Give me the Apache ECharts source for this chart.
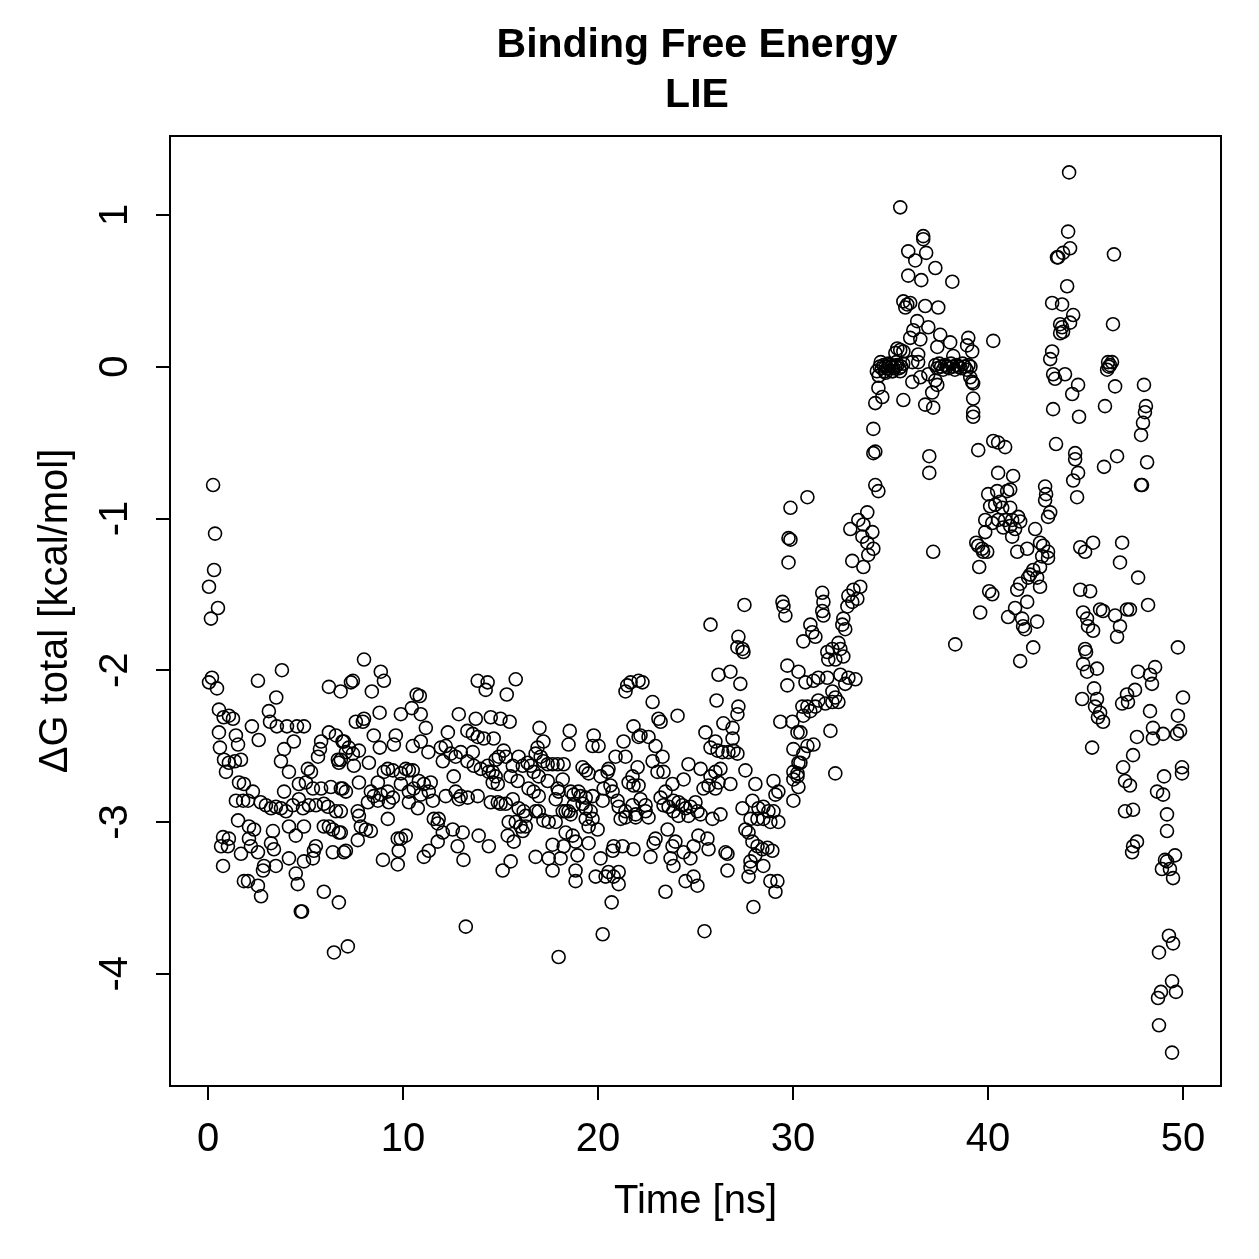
<!DOCTYPE html>
<html>
<head>
<meta charset="utf-8">
<script src="https://cdn.jsdelivr.net/npm/echarts@6/dist/echarts.min.js"></script>
<style>
  html, body { margin: 0; padding: 0; background: #fff; }
  #chart { width: 1259px; height: 1259px; }
</style>
</head>
<body>
<div id="chart"></div>
<script>
// tick labels
var xTicks = [0, 10, 20, 30, 40, 50];
var yTicks = [-4, -3, -2, -1, 0, 1];

// [time (ns), dG total (kcal/mol)]
var seg0to7 = [[0.26,-0.78],[0.36,-1.1],[0.31,-1.34],[0.05,-1.45],[0.51,-1.59],[0.15,-1.66],[0.2,-2.05],[0.05,-2.08],[0.46,-2.12],[2.56,-2.07],[3.79,-2.0],[6.2,-2.11],[6.8,-2.14],[3.5,-2.18],[0.56,-2.26],[0.8,-2.31],[1.07,-2.3],[1.28,-2.32],[3.12,-2.27],[2.25,-2.37],[3.18,-2.34],[3.53,-2.37],[4.05,-2.37],[4.56,-2.37],[4.92,-2.37],[0.56,-2.41],[1.43,-2.43],[1.54,-2.49],[2.6,-2.46],[4.4,-2.47],[0.61,-2.51],[3.9,-2.52],[5.8,-2.47],[5.74,-2.52],[5.64,-2.57],[6.2,-2.41],[6.56,-2.43],[6.9,-2.47],[0.82,-2.59],[1.07,-2.61],[1.38,-2.6],[1.69,-2.59],[0.92,-2.67],[3.74,-2.6],[4.15,-2.67],[6.66,-2.59],[6.71,-2.61],[5.12,-2.65],[5.28,-2.67],[1.59,-2.74],[1.84,-2.75],[2.3,-2.8],[3.9,-2.8],[4.66,-2.75],[5.02,-2.74],[5.38,-2.78],[5.8,-2.78],[6.3,-2.77],[6.9,-2.78],[1.43,-2.86],[1.8,-2.86],[2.05,-2.86],[2.7,-2.87],[2.97,-2.89],[3.23,-2.91],[3.48,-2.9],[3.74,-2.91],[4.0,-2.93],[4.35,-2.89],[4.66,-2.85],[4.87,-2.91],[5.17,-2.89],[5.53,-2.89],[5.94,-2.88],[6.15,-2.9],[6.56,-2.93],[1.54,-2.99],[2.1,-3.03],[2.36,-3.05],[3.33,-3.06],[4.15,-3.03],[4.5,-3.09],[4.92,-3.03],[5.94,-3.03],[6.2,-3.03],[6.4,-3.05],[6.71,-3.07],[0.77,-3.1],[1.07,-3.11],[0.67,-3.16],[1.02,-3.16],[2.1,-3.11],[1.69,-3.21],[2.2,-3.16],[2.56,-3.2],[3.23,-3.14],[3.38,-3.18],[5.53,-3.16],[5.43,-3.19],[5.38,-3.24],[6.4,-3.2],[6.97,-3.2],[0.77,-3.29],[4.15,-3.24],[4.92,-3.26],[2.87,-3.29],[2.82,-3.32],[3.48,-3.29],[4.5,-3.34],[4.6,-3.41],[1.84,-3.39],[2.05,-3.39],[2.56,-3.42],[2.72,-3.49],[5.94,-3.46],[6.71,-3.53],[4.76,-3.59],[4.82,-3.59],[6.46,-3.86]];

var seg7to14 = [[8.0,-1.93],[8.86,-2.01],[9.02,-2.07],[7.43,-2.07],[7.33,-2.08],[8.4,-2.14],[13.83,-2.07],[14.34,-2.08],[14.24,-2.13],[10.7,-2.16],[10.86,-2.17],[10.45,-2.25],[10.91,-2.29],[8.8,-2.28],[9.89,-2.29],[7.58,-2.34],[8.0,-2.32],[7.94,-2.34],[12.86,-2.29],[13.73,-2.32],[14.5,-2.31],[11.17,-2.38],[8.5,-2.43],[9.63,-2.43],[9.53,-2.49],[8.81,-2.51],[12.3,-2.41],[10.91,-2.47],[10.5,-2.5],[13.3,-2.4],[13.58,-2.42],[13.83,-2.44],[14.14,-2.45],[6.97,-2.47],[7.22,-2.51],[7.07,-2.54],[7.43,-2.55],[7.74,-2.53],[6.81,-2.59],[7.48,-2.63],[8.25,-2.61],[11.3,-2.54],[11.94,-2.51],[12.19,-2.5],[12.45,-2.55],[12.7,-2.57],[12.96,-2.54],[13.58,-2.54],[12.04,-2.6],[13.3,-2.6],[13.63,-2.63],[13.99,-2.65],[14.34,-2.63],[14.6,-2.67],[9.22,-2.65],[9.48,-2.66],[10.14,-2.65],[10.3,-2.66],[10.5,-2.66],[9.02,-2.67],[9.89,-2.68],[10.81,-2.73],[11.07,-2.75],[11.42,-2.74],[12.6,-2.7],[7.74,-2.74],[8.71,-2.74],[9.89,-2.75],[6.81,-2.78],[7.07,-2.8],[8.35,-2.8],[8.5,-2.83],[8.86,-2.82],[9.22,-2.8],[9.48,-2.84],[10.3,-2.8],[10.55,-2.78],[10.91,-2.82],[11.32,-2.8],[11.53,-2.86],[12.19,-2.83],[12.7,-2.8],[12.96,-2.83],[13.32,-2.84],[13.83,-2.83],[8.2,-2.87],[8.71,-2.86],[9.27,-2.87],[10.3,-2.87],[10.76,-2.91],[12.86,-2.85],[14.5,-2.87],[6.81,-2.93],[7.68,-2.93],[7.74,-2.96],[9.22,-2.98],[11.58,-2.98],[11.83,-2.98],[11.78,-3.01],[7.84,-3.03],[8.1,-3.05],[8.35,-3.06],[6.81,-3.07],[10.14,-3.09],[9.89,-3.11],[9.73,-3.11],[12.55,-3.05],[13.06,-3.07],[13.88,-3.09],[7.68,-3.12],[12.04,-3.07],[11.78,-3.13],[7.07,-3.19],[9.78,-3.19],[11.32,-3.19],[11.07,-3.23],[12.8,-3.16],[14.4,-3.16],[8.97,-3.25],[9.73,-3.28],[13.1,-3.25],[13.22,-3.69],[7.17,-3.82]];

var seg14to22 = [[15.78,-2.06],[15.32,-2.16],[21.5,-2.1],[21.67,-2.08],[22.08,-2.07],[21.41,-2.14],[15.0,-2.32],[15.47,-2.34],[17.0,-2.38],[18.55,-2.4],[18.49,-2.49],[19.78,-2.43],[19.72,-2.5],[20.03,-2.5],[21.82,-2.37],[22.08,-2.44],[21.31,-2.47],[14.65,-2.45],[17.2,-2.47],[16.9,-2.51],[16.8,-2.55],[17.06,-2.57],[15.16,-2.53],[14.91,-2.57],[14.75,-2.59],[15.27,-2.57],[15.93,-2.57],[20.9,-2.57],[21.41,-2.57],[14.4,-2.67],[14.75,-2.7],[14.6,-2.74],[14.86,-2.75],[15.63,-2.63],[16.14,-2.63],[16.39,-2.61],[16.55,-2.63],[16.7,-2.67],[17.2,-2.6],[17.42,-2.62],[17.67,-2.62],[17.93,-2.62],[18.24,-2.62],[15.52,-2.7],[15.88,-2.73],[16.96,-2.7],[17.42,-2.73],[18.19,-2.72],[19.21,-2.64],[19.37,-2.66],[19.52,-2.68],[20.13,-2.7],[20.54,-2.65],[20.49,-2.67],[21.77,-2.7],[22.03,-2.64],[21.57,-2.74],[21.82,-2.76],[22.08,-2.76],[16.44,-2.78],[16.7,-2.8],[16.96,-2.83],[17.93,-2.78],[17.98,-2.8],[18.6,-2.8],[18.75,-2.82],[19.0,-2.8],[19.1,-2.83],[19.37,-2.84],[19.72,-2.83],[20.29,-2.78],[20.64,-2.76],[20.75,-2.8],[14.86,-2.87],[15.0,-2.88],[15.27,-2.88],[15.63,-2.85],[17.83,-2.85],[15.93,-2.91],[16.19,-2.93],[16.29,-2.96],[16.8,-2.93],[16.96,-2.93],[18.34,-2.93],[18.49,-2.93],[18.75,-2.89],[19.21,-2.88],[19.37,-2.91],[19.62,-2.93],[20.24,-2.86],[21.0,-2.86],[21.06,-2.9],[21.41,-2.93],[21.77,-2.89],[21.93,-2.95],[15.42,-3.0],[15.78,-3.0],[16.03,-3.03],[16.29,-3.03],[16.14,-3.06],[17.2,-2.99],[17.47,-3.0],[17.83,-3.0],[18.19,-2.93],[18.6,-2.95],[19.37,-2.98],[19.72,-2.98],[19.98,-3.05],[19.52,-3.03],[21.16,-2.98],[21.41,-2.97],[21.93,-2.97],[15.37,-3.09],[15.68,-3.13],[18.34,-3.07],[18.7,-3.09],[18.85,-3.13],[19.52,-3.14],[17.67,-3.15],[18.24,-3.16],[20.8,-3.16],[21.26,-3.16],[21.82,-3.18],[16.8,-3.23],[17.47,-3.24],[18.08,-3.24],[18.95,-3.22],[20.13,-3.24],[20.75,-3.19],[15.52,-3.26],[15.11,-3.32],[17.67,-3.32],[18.85,-3.32],[19.88,-3.36],[20.39,-3.36],[20.54,-3.33],[20.8,-3.36],[21.06,-3.33],[21.06,-3.41],[18.85,-3.39],[20.7,-3.53],[20.24,-3.74],[17.98,-3.89]];

var seg22to30 = [[27.51,-1.57],[29.46,-1.55],[29.51,-1.58],[29.61,-1.64],[25.77,-1.7],[27.2,-1.78],[27.15,-1.85],[27.41,-1.86],[27.46,-1.88],[29.71,-1.97],[30.28,-2.01],[29.71,-2.1],[26.18,-2.03],[26.79,-2.01],[27.3,-2.09],[22.28,-2.08],[26.08,-2.2],[22.8,-2.21],[27.2,-2.24],[27.15,-2.29],[24.08,-2.3],[23.1,-2.32],[23.21,-2.34],[29.35,-2.34],[29.97,-2.34],[30.23,-2.41],[26.43,-2.35],[26.9,-2.38],[26.9,-2.45],[26.95,-2.53],[27.15,-2.55],[22.18,-2.43],[22.59,-2.44],[22.95,-2.5],[25.51,-2.41],[26.02,-2.47],[25.77,-2.51],[26.13,-2.53],[26.38,-2.54],[26.69,-2.54],[30.02,-2.52],[30.28,-2.61],[30.23,-2.68],[30.02,-2.72],[23.31,-2.57],[22.8,-2.6],[23.05,-2.67],[23.36,-2.67],[24.64,-2.62],[25.26,-2.65],[24.39,-2.72],[23.82,-2.75],[25.77,-2.7],[26.02,-2.67],[26.28,-2.65],[25.67,-2.76],[26.18,-2.74],[26.79,-2.75],[26.02,-2.78],[25.41,-2.78],[27.56,-2.66],[28.07,-2.75],[29.0,-2.73],[29.25,-2.8],[29.1,-2.82],[22.18,-2.85],[22.44,-2.89],[22.44,-2.93],[22.59,-2.97],[23.46,-2.8],[23.21,-2.84],[23.87,-2.86],[24.13,-2.87],[24.33,-2.89],[24.49,-2.91],[24.74,-2.9],[25.0,-2.87],[25.1,-2.93],[25.26,-2.95],[24.64,-2.96],[24.13,-2.96],[23.87,-2.93],[23.62,-2.9],[23.36,-2.89],[25.87,-2.98],[26.28,-2.95],[27.41,-2.91],[27.92,-2.86],[28.23,-2.91],[28.48,-2.9],[28.74,-2.93],[29.0,-2.93],[29.25,-3.0],[28.84,-3.0],[28.48,-2.98],[28.18,-2.98],[27.82,-2.98],[23.57,-3.05],[23.97,-3.13],[23.82,-3.16],[22.95,-3.11],[22.85,-3.14],[22.69,-3.23],[25.15,-3.09],[25.61,-3.11],[25.67,-3.18],[24.9,-3.16],[24.39,-3.2],[24.74,-3.24],[26.54,-3.2],[26.64,-3.21],[26.64,-3.32],[27.56,-3.05],[27.72,-3.07],[27.92,-3.13],[28.18,-3.16],[28.43,-3.18],[28.69,-3.17],[28.94,-3.19],[28.07,-3.22],[27.82,-3.26],[27.82,-3.3],[27.72,-3.36],[28.48,-3.29],[28.84,-3.39],[29.2,-3.39],[29.1,-3.46],[23.72,-3.24],[23.87,-3.29],[23.46,-3.46],[24.49,-3.39],[25.1,-3.42],[24.9,-3.36],[27.97,-3.56],[25.46,-3.72]];

var seg30to34 = [[34.22,-0.78],[34.38,-0.82],[29.87,-0.93],[30.74,-0.86],[29.77,-1.13],[29.87,-1.14],[29.77,-1.29],[32.94,-1.07],[33.35,-1.01],[33.81,-0.96],[33.61,-1.04],[34.07,-1.09],[33.56,-1.12],[33.81,-1.16],[34.12,-1.2],[33.86,-1.24],[33.61,-1.32],[33.04,-1.28],[31.5,-1.49],[31.56,-1.55],[31.5,-1.61],[31.56,-1.64],[32.84,-1.51],[33.1,-1.47],[33.45,-1.45],[33.3,-1.53],[33.04,-1.55],[32.79,-1.58],[32.58,-1.66],[32.53,-1.7],[32.68,-1.73],[32.33,-1.82],[32.43,-1.86],[32.02,-1.86],[31.76,-1.88],[31.81,-1.93],[32.17,-1.93],[32.58,-1.91],[30.89,-1.7],[30.99,-1.75],[31.15,-1.78],[30.53,-1.81],[30.64,-2.08],[31.05,-2.07],[31.3,-2.05],[31.76,-2.05],[32.43,-2.03],[32.84,-2.05],[33.2,-2.06],[32.68,-2.09],[32.02,-2.14],[32.17,-2.18],[32.33,-2.21],[32.02,-2.21],[31.66,-2.22],[31.3,-2.2],[31.15,-2.24],[30.74,-2.24],[30.48,-2.24],[30.89,-2.27],[30.53,-2.3],[30.38,-2.41],[31.92,-2.4],[30.74,-2.5],[31.05,-2.49],[30.53,-2.55],[30.38,-2.61],[30.02,-2.67],[30.23,-2.7],[30.28,-2.77],[30.02,-2.86],[32.17,-2.68]];

var seg34to40 = [[35.5,1.05],[36.68,0.86],[36.68,0.84],[35.91,0.76],[36.27,0.7],[36.83,0.75],[37.3,0.65],[35.91,0.6],[36.58,0.57],[38.17,0.56],[35.66,0.43],[35.86,0.41],[36.01,0.42],[35.76,0.39],[36.78,0.4],[37.45,0.39],[36.37,0.3],[36.17,0.24],[36.94,0.26],[37.55,0.21],[36.53,0.18],[36.01,0.19],[38.06,0.16],[38.99,0.19],[38.93,0.14],[39.19,0.1],[40.27,0.17],[35.35,0.12],[35.5,0.11],[35.66,0.1],[35.25,0.09],[36.42,0.08],[37.4,0.13],[38.22,0.07],[36.12,0.03],[36.42,0.03],[34.3,-0.03],[34.4,-0.06],[34.75,-0.04],[35.1,-0.03],[36.12,-0.1],[36.53,-0.07],[36.94,-0.05],[37.3,-0.09],[37.4,-0.12],[39.09,-0.07],[39.19,-0.1],[39.24,-0.11],[34.38,-0.14],[34.58,-0.2],[34.22,-0.24],[35.66,-0.22],[37.14,-0.17],[36.78,-0.25],[37.19,-0.27],[39.24,-0.21],[39.24,-0.3],[39.24,-0.33],[34.12,-0.41],[34.22,-0.56],[34.12,-0.57],[36.99,-0.59],[36.99,-0.7],[37.19,-1.22]];

var plateauA = [[34.45,0.0],[34.5,0.03],[34.55,-0.01],[34.65,0.01],[34.7,-0.03],[34.75,0.0],[34.85,-0.01],[34.9,0.02],[34.95,0.01],[35.05,0.0],[35.1,-0.03],[35.15,-0.01],[35.25,0.0],[35.3,0.03],[35.35,0.01],[35.45,-0.01],[35.5,-0.03],[35.55,0.0],[35.65,0.02]];

var plateauB = [[37.3,0.01],[37.4,-0.01],[37.5,0.02],[37.6,0.0],[37.7,-0.02],[37.8,0.01],[37.9,0.0],[38.0,-0.01],[38.1,0.02],[38.2,0.0],[38.3,-0.02],[38.4,0.01],[38.5,0.0],[38.6,-0.01],[38.7,0.02],[38.8,0.0],[38.9,-0.02],[39.0,0.01],[39.1,0.0]];

var seg39to45 = [[39.5,-0.55],[40.27,-0.49],[40.52,-0.5],[40.88,-0.53],[43.49,-0.51],[44.47,-0.57],[44.47,-0.61],[44.62,-0.7],[44.37,-0.75],[44.57,-0.86],[40.52,-0.7],[41.29,-0.72],[40.01,-0.84],[40.47,-0.82],[40.98,-0.82],[41.14,-0.81],[42.93,-0.79],[42.98,-0.84],[42.93,-0.88],[43.19,-0.96],[43.08,-0.99],[40.11,-0.92],[40.37,-0.91],[40.62,-0.89],[40.73,-0.93],[41.14,-0.93],[39.86,-1.01],[40.22,-1.03],[40.52,-1.01],[40.88,-1.01],[41.24,-1.01],[41.55,-0.99],[40.78,-1.06],[41.14,-1.05],[41.39,-1.07],[41.24,-1.12],[41.65,-1.02],[39.86,-1.09],[39.4,-1.16],[39.5,-1.18],[39.7,-1.2],[39.96,-1.22],[39.75,-1.22],[39.55,-1.32],[42.42,-1.07],[42.67,-1.16],[42.83,-1.18],[43.08,-1.22],[42.78,-1.25],[43.08,-1.26],[42.01,-1.2],[41.5,-1.22],[42.67,-1.32],[42.32,-1.34],[42.16,-1.37],[42.06,-1.39],[42.52,-1.39],[42.67,-1.45],[41.65,-1.43],[41.5,-1.47],[42.01,-1.55],[41.39,-1.59],[40.06,-1.48],[40.22,-1.5],[39.6,-1.62],[41.03,-1.65],[41.75,-1.66],[41.8,-1.71],[41.9,-1.73],[42.52,-1.68],[42.32,-1.85],[41.65,-1.94],[38.32,-1.83],[44.73,-1.19],[44.98,-1.22],[44.73,-1.47],[44.88,-1.62],[45.08,-1.66],[44.98,-1.86]];

var seg43to50 = [[44.16,1.28],[44.11,0.89],[44.21,0.78],[43.85,0.75],[43.54,0.72],[43.6,0.72],[46.46,0.74],[44.06,0.53],[43.29,0.42],[43.8,0.41],[44.37,0.34],[44.21,0.29],[43.7,0.28],[43.8,0.26],[43.85,0.23],[43.7,0.22],[46.41,0.28],[43.29,0.1],[43.19,0.05],[46.16,0.03],[46.26,0.01],[46.36,0.03],[46.2,0.0],[46.11,-0.02],[43.34,-0.05],[43.44,-0.08],[43.95,-0.05],[44.62,-0.12],[44.32,-0.18],[46.52,-0.13],[46.0,-0.26],[48.0,-0.12],[43.34,-0.28],[44.67,-0.33],[48.1,-0.26],[48.05,-0.3],[47.95,-0.37],[47.85,-0.45],[45.95,-0.66],[46.62,-0.59],[48.16,-0.63],[47.85,-0.78],[47.9,-0.78],[45.39,-1.16],[46.88,-1.16],[46.77,-1.29],[47.7,-1.39],[45.24,-1.48],[45.13,-1.71],[45.39,-1.74],[45.75,-1.6],[45.9,-1.61],[46.52,-1.64],[46.77,-1.71],[46.62,-1.78],[47.13,-1.6],[47.28,-1.6],[48.21,-1.57],[45.03,-1.88],[44.88,-1.96],[45.08,-2.01],[45.59,-1.99],[49.74,-1.85],[47.7,-2.01],[48.31,-2.03],[48.57,-1.98],[48.41,-2.09],[47.54,-2.13],[47.13,-2.16],[46.88,-2.22],[47.18,-2.21],[45.44,-2.12],[45.59,-2.19],[45.49,-2.24],[45.75,-2.28],[45.64,-2.31],[45.9,-2.34],[44.83,-2.19],[50.0,-2.18],[49.74,-2.3],[48.31,-2.27],[48.46,-2.38],[48.46,-2.45],[48.98,-2.42],[49.69,-2.42],[49.85,-2.4],[47.64,-2.44],[45.34,-2.51],[47.44,-2.56],[46.93,-2.64],[47.03,-2.73],[47.28,-2.76],[49.95,-2.64],[49.95,-2.68],[49.03,-2.7],[48.67,-2.8],[48.98,-2.82],[47.03,-2.93],[47.44,-2.92],[49.18,-2.95],[49.18,-3.06],[47.64,-3.13],[47.44,-3.16],[47.39,-3.2],[49.59,-3.22],[49.18,-3.26],[48.92,-3.31],[49.33,-3.31],[49.49,-3.37],[49.08,-3.25],[49.28,-3.75],[49.49,-3.8],[48.77,-3.86],[49.44,-4.05],[49.64,-4.12],[48.87,-4.12],[48.72,-4.16],[48.77,-4.34],[49.44,-4.52]];

var allPoints = [].concat(seg0to7, seg7to14, seg14to22, seg22to30, seg30to34,
    seg34to40, plateauA, plateauB, seg39to45, seg43to50);

var fontName = '"Liberation Sans", Arial, Helvetica, sans-serif';
var chart = echarts.init(document.getElementById('chart'));

var option = {
    backgroundColor: '#ffffff',
    animation: false,
    grid: {
        left: 170,
        right: 38,
        top: 136,
        bottom: 173,
        show: true,
        borderColor: '#000',
        borderWidth: 2,
        backgroundColor: 'transparent'
    },
    graphic: [
        {
            type: 'text', x: 697, y: 46,
            style: { text: 'Binding Free Energy', font: 'bold 41px ' + fontName, fill: '#000',
                     textAlign: 'center', textVerticalAlign: 'middle' }
        },
        {
            type: 'text', x: 697, y: 96,
            style: { text: 'LIE', font: 'bold 41px ' + fontName, fill: '#000',
                     textAlign: 'center', textVerticalAlign: 'middle' }
        }
    ],
    xAxis: {
        type: 'value',
        min: -1.95,
        max: 51.95,
        name: 'Time [ns]',
        nameLocation: 'middle',
        nameGap: 96,
        nameTextStyle: { fontSize: 40, color: '#000', fontFamily: fontName },
        axisLine: { show: false, onZero: false },
        splitLine: { show: false },
        axisTick: {
            show: true, inside: false, length: 14, customValues: xTicks,
            lineStyle: { color: '#000', width: 2 }
        },
        axisLabel: {
            customValues: xTicks, fontSize: 40, color: '#000', fontFamily: fontName, margin: 34
        }
    },
    yAxis: {
        type: 'value',
        min: -4.74,
        max: 1.52,
        name: 'ΔG total [kcal/mol]',
        nameLocation: 'middle',
        nameGap: 94,
        nameTextStyle: { fontSize: 40, color: '#000', fontFamily: fontName },
        axisLine: { show: false, onZero: false },
        splitLine: { show: false },
        axisTick: {
            show: true, inside: false, length: 14, customValues: yTicks,
            lineStyle: { color: '#000', width: 2 }
        },
        axisLabel: {
            customValues: yTicks, fontSize: 40, color: '#000', fontFamily: fontName,
            rotate: 90, margin: 34
        }
    },
    series: [
        {
            type: 'scatter',
            data: allPoints,
            symbol: 'circle',
            symbolSize: 13,
            silent: true,
            itemStyle: { color: 'rgba(0,0,0,0)', borderColor: '#000', borderWidth: 1.6, opacity: 1 }
        }
    ]
};

chart.setOption(option);
</script>
</body>
</html>
